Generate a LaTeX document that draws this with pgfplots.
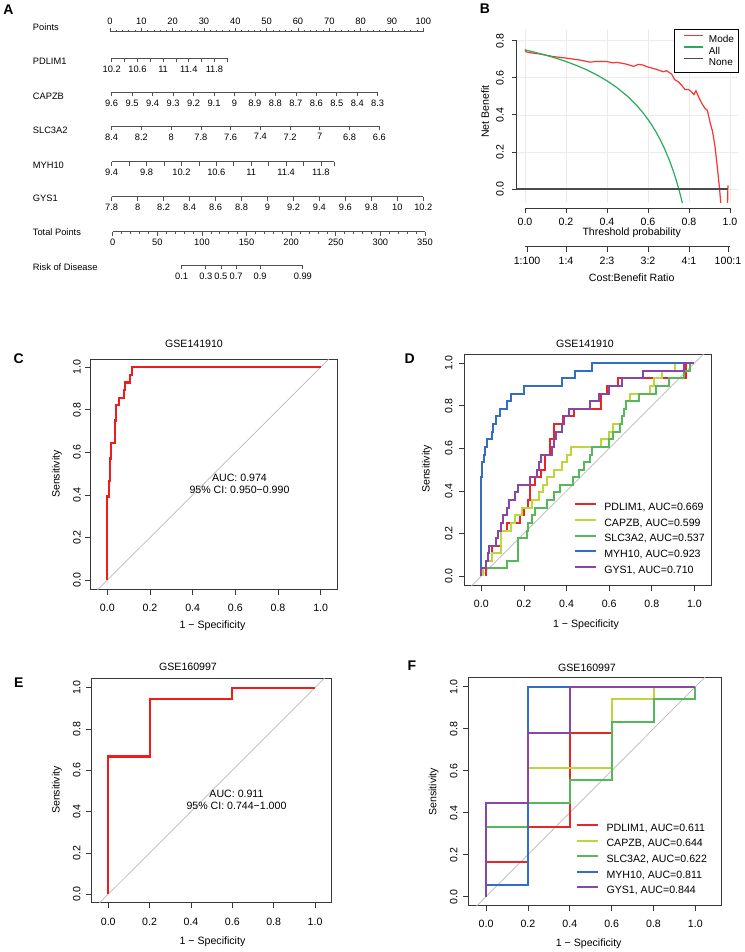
\documentclass[border=0pt]{standalone}
\usepackage{fontspec}
\setmainfont{Liberation Sans}
\usepackage{pgfplots}
\pgfplotsset{compat=1.18}

\definecolor{rocred}{RGB}{240,28,28}
\definecolor{cred}{RGB}{232,38,38}
\definecolor{cyel}{RGB}{190,214,60}
\definecolor{cgrn}{RGB}{86,184,90}
\definecolor{cblu}{RGB}{50,110,200}
\definecolor{cpur}{RGB}{138,70,166}
\definecolor{dcared}{RGB}{250,50,50}
\definecolor{dcagrn}{RGB}{40,172,92}
\definecolor{nomo}{RGB}{80,80,80}
\definecolor{boxc}{RGB}{55,55,55}
\definecolor{diag}{RGB}{185,185,185}

\newcommand{\fA}{\fontsize{9.3}{11}\selectfont}
\newcommand{\fB}{\fontsize{10.6}{12.5}\selectfont}
\newcommand{\fL}{\fontsize{14}{16}\selectfont\bfseries}

\pgfplotsset{
  nomoaxis/.style={scale only axis, height=10pt, ymin=0, ymax=1,
    hide y axis, axis x line*=bottom, tick align=outside, anchor=south west,
    axis line style={draw=nomo, line width=0.7pt},
    tick style={draw=nomo, line width=0.7pt},
    major tick length=4pt, minor tick length=2pt,
    tick label style={font=\fA},
    /pgf/number format/assume math mode=true},
  rocaxis/.style={scale only axis, anchor=south west,
    axis x line*=bottom, axis y line*=left, clip mode=individual,
    xtick={0,0.2,0.4,0.6,0.8,1}, ytick={0,0.2,0.4,0.6,0.8,1},
    xticklabels={0.0,0.2,0.4,0.6,0.8,1.0}, yticklabels=\empty,
    tick align=outside,
    major tick length=5.5pt,
    axis line style={draw=boxc, line width=0.8pt},
    tick style={draw=boxc, line width=0.8pt},
    tick label style={font=\fB},
    xticklabel shift=6pt},
  roclegend/.style={legend style={at={(axis cs:#1)}, anchor=north west, draw=none, fill=none,
      inner sep=0pt, font=\fB, row sep=5.85pt,
      nodes={inner sep=0pt, text height=7.6pt, text depth=2.2pt}},
    legend cell align=left,
    legend image code/.code={\draw[##1, line width=2pt] (0pt,3.6pt) -- (21pt,3.6pt); \path (28.3pt,0pt);}},
}

\begin{document}
\begin{tikzpicture}
\useasboundingbox (0,0) rectangle (744pt,-952pt);

% ================= Panel A: nomogram =================
\begin{axis}[nomoaxis, axis x line*=top, anchor=north west, at={(110pt,-31.7pt)}, width=313.3pt,
  xmin=0, xmax=100, xtick={0,10,...,100}, minor x tick num=4]
\end{axis}
\begin{axis}[nomoaxis, at={(111.7pt,-58.3pt)}, width=115.6pt,
  xmin=10.2, xmax=12.0, xtick={10.2,10.4,10.6,10.8,11,11.2,11.4,11.6,11.8,12},
  xticklabels={10.2,,10.6,,11,,11.4,,11.8,}]
\end{axis}
\begin{axis}[nomoaxis, at={(111.7pt,-92.3pt)}, width=266pt, x dir=reverse,
  xmin=8.3, xmax=9.6, xtick={8.3,8.4,8.5,8.6,8.7,8.8,8.9,9,9.1,9.2,9.3,9.4,9.5,9.6},
  xticklabels={8.3,8.4,8.5,8.6,8.7,8.8,8.9,9,9.1,9.2,9.3,9.4,9.5,9.6}]
\end{axis}
\begin{axis}[nomoaxis, at={(111.7pt,-126pt)}, width=267.6pt, x dir=reverse,
  xmin=6.6, xmax=8.4, xtick={6.6,6.8,7,7.2,7.4,7.6,7.8,8,8.2,8.4},
  xticklabels={6.6,6.8,7,7.2,7.4,7.6,7.8,8,8.2,8.4}]
\end{axis}
\begin{axis}[nomoaxis, at={(111.7pt,-161.7pt)}, width=222.3pt,
  xmin=9.4, xmax=11.95, xtick={9.4,9.6,9.8,10,10.2,10.4,10.6,10.8,11,11.2,11.4,11.6,11.8,11.95},
  xticklabels={9.4,,9.8,,10.2,,10.6,,11,,11.4,,11.8,}]
\end{axis}
\begin{axis}[nomoaxis, at={(111.7pt,-196.7pt)}, width=311.6pt,
  xmin=7.8, xmax=10.2, xtick={7.8,8,8.2,8.4,8.6,8.8,9,9.2,9.4,9.6,9.8,10,10.2},
  xticklabels={7.8,8,8.2,8.4,8.6,8.8,9,9.2,9.4,9.6,9.8,10,10.2}]
\end{axis}
\begin{axis}[nomoaxis, at={(112.7pt,-231.7pt)}, width=312.3pt,
  xmin=0, xmax=350, xtick={0,50,...,350}, minor x tick num=4]
\end{axis}
\begin{axis}[nomoaxis, at={(181.7pt,-265pt)}, width=121.1pt,
  xmin=77.3, xmax=213, xtick={77.3,104.3,121.2,138.2,165.1,213},
  xticklabels={0.1,0.3,0.5,0.7,0.9,0.99}]
\end{axis}

\foreach \lab/\yy in {Points/27.5, PDLIM1/61, CAPZB/96, SLC3A2/130, MYH10/165, GYS1/198.5, Total Points/232, Risk of Disease/267}
  \node[anchor=west, font=\fA, inner sep=0pt] at (32.7pt,-\yy pt) {\lab};

% ================= Panel B: decision curve =================
\begin{axis}[scale only axis, anchor=south west, at={(516.8pt,-202.9pt)}, width=221.4pt, height=174.3pt,
  xmin=-0.04, xmax=1.04, ymin=-0.075, ymax=0.865,
  axis line style={draw=none}, major tick length=0pt,
  xtick={0,0.2,0.4,0.6,0.8,1}, ytick={0,0.2,0.4,0.6,0.8},
  xticklabels=\empty, yticklabels=\empty,
  grid=major, grid style={draw=gray!15, line width=0.5pt},
  legend style={at={(axis cs:1.04,0.865)}, anchor=north east, draw=black, line width=0.5pt, fill=white,
     inner xsep=4pt, inner ysep=6pt, font=\fontsize{10}{12}\selectfont, row sep=3.6pt,
     nodes={inner sep=0pt, text height=7.2pt, text depth=0pt}},
  legend cell align=left,
  legend image code/.code={\path (-5pt,0pt); \draw[#1, line width=1.5pt] (0pt,3.6pt) -- (19pt,3.6pt); \path (24pt,0pt);}]
\addplot[dcared, line width=1.2pt] coordinates {
 (0,0.752)(0.005,0.74)(0.024,0.735)(0.073,0.728)(0.138,0.714)(0.2,0.706)(0.27,0.695)
 (0.317,0.684)(0.35,0.688)(0.4,0.687)(0.43,0.68)(0.447,0.683)(0.496,0.673)(0.53,0.661)
 (0.553,0.672)(0.577,0.668)(0.593,0.66)(0.642,0.645)(0.675,0.632)(0.69,0.638)(0.715,0.62)
 (0.73,0.59)(0.748,0.578)(0.764,0.56)(0.78,0.537)(0.797,0.537)(0.813,0.523)(0.824,0.509)
 (0.834,0.53)(0.846,0.498)(0.862,0.462)(0.878,0.435)(0.889,0.425)(0.902,0.363)(0.915,0.309)
 (0.927,0.228)(0.938,0.12)(0.948,0.013)(0.956,-0.09)(0.96,-0.3)(0.984,-0.3)(0.99,0.02)};
\addlegendentry{Mode}
\addplot[dcagrn, line width=1.2pt] coordinates {
 (0,0.75)(0.05,0.7368)(0.1,0.7222)(0.15,0.7059)(0.2,0.6875)(0.25,0.6667)(0.3,0.6429)
 (0.35,0.6154)(0.4,0.5833)(0.45,0.5455)(0.5,0.5)(0.55,0.4444)(0.58,0.4048)(0.6,0.375)
 (0.62,0.3421)(0.64,0.3056)(0.66,0.2647)(0.68,0.2188)(0.7,0.1667)(0.71,0.1379)(0.72,0.1071)
 (0.73,0.0741)(0.74,0.0385)(0.75,0)(0.76,-0.0417)(0.77,-0.087)(0.78,-0.1364)};
\addlegendentry{All}
\addplot[black!70, line width=1.5pt] coordinates {(-0.04,0) (0.99,0)};
\addlegendentry{None}
\end{axis}
% y axis of B
\begin{axis}[scale only axis, anchor=south west, at={(516.8pt,-189pt)}, width=10pt, height=148.3pt,
  xmin=0, xmax=1, ymin=0, ymax=0.8, hide x axis, axis y line*=left, tick align=outside,
  major tick length=5pt, ytick={0,0.2,0.4,0.6,0.8}, yticklabels={0.0,0.2,0.4,0.6,0.8},
  axis line style={draw=boxc, line width=0.8pt}, tick style={draw=boxc, line width=0.8pt},
  tick label style={font=\fB}, yticklabel style={rotate=90, anchor=south}, yticklabel shift=4.5pt]
\end{axis}
% x axis of B
\begin{axis}[scale only axis, anchor=south west, at={(525pt,-208.3pt)}, width=205pt, height=10pt,
  xmin=0, xmax=1, ymin=0, ymax=1, hide y axis, axis x line*=bottom, tick align=outside,
  major tick length=5pt, xtick={0,0.2,0.4,0.6,0.8,1}, xticklabels={0.0,0.2,0.4,0.6,0.8,1.0},
  axis line style={draw=boxc, line width=0.8pt}, tick style={draw=boxc, line width=0.8pt},
  tick label style={font=\fB}, xticklabel shift=1.5pt]
\end{axis}
% cost:benefit axis
\begin{axis}[scale only axis, anchor=south west, at={(525pt,-246.7pt)}, width=205pt, height=10pt,
  xmin=0, xmax=1, ymin=0, ymax=1, hide y axis, axis x line*=bottom, tick align=outside,
  major tick length=5pt, xtick={0.0099,0.2,0.4,0.6,0.8,0.9901},
  xticklabels={1:100,1:4,2:3,3:2,4:1,100:1},
  axis line style={draw=boxc, line width=0.8pt}, tick style={draw=boxc, line width=0.8pt},
  tick label style={font=\fB}, xticklabel shift=1.5pt]
\end{axis}
\node[font=\fB, rotate=90] at (485pt,-111.7pt) {Net Benefit};
\node[font=\fB] at (631.7pt,-232.5pt) {Threshold probability};
\node[font=\fB] at (631.7pt,-277.7pt) {Cost:Benefit Ratio};

% ================= Panel C =================
\begin{axis}[rocaxis, at={(90.7pt,-589pt)}, width=246.6pt, height=230pt,
  xmin=-0.078, xmax=1.078, ymin=-0.042, ymax=1.039]
\draw[boxc, line width=0.8pt] (rel axis cs:0,0) rectangle (rel axis cs:1,1);
\addplot[diag, line width=0.7pt] coordinates {(-0.2,-0.2) (1.2,1.2)};
\addplot[rocred, line width=2.2pt] coordinates {
 (0,0)(0,0.393)(0.006,0.393)(0.006,0.464)(0.012,0.464)(0.012,0.571)(0.018,0.571)(0.018,0.643)
 (0.036,0.643)(0.036,0.75)(0.042,0.75)(0.042,0.821)(0.054,0.821)(0.054,0.857)(0.078,0.857)
 (0.078,0.893)(0.084,0.893)(0.084,0.929)(0.108,0.929)(0.108,0.964)(0.114,0.964)(0.114,1)(1,1)};
\end{axis}
\foreach \lab/\yy in {0.0/580, 0.2/537.5, 0.4/494.9, 0.6/452.4, 0.8/409.8, 1.0/367.3}
  \node[font=\fB, rotate=90, inner sep=0pt] at (77pt,-\yy pt) {\lab};
\node[font=\fB] at (194pt,-344pt) {GSE141910};
\node[font=\fB, rotate=90] at (57pt,-474pt) {Sensitivity};
\node[font=\fB] at (212.5pt,-626pt) {1 − Specificity};
\node[font=\fB] at (239.5pt,-478.3pt) {AUC: 0.974};
\node[font=\fB] at (239.5pt,-489.5pt) {95\% CI: 0.950−0.990};

% ================= Panel D =================
\begin{axis}[rocaxis, roclegend={0.434,0.344}, at={(464.3pt,-585pt)}, width=246.7pt, height=230.7pt,
  xmin=-0.080, xmax=1.078, ymin=-0.042, ymax=1.042]
\draw[boxc, line width=0.8pt] (rel axis cs:0,0) rectangle (rel axis cs:1,1);
\addplot[diag, line width=0.7pt, forget plot] coordinates {(-0.2,-0.2) (1.2,1.2)};
\addplot[cred, line width=2pt] coordinates {
 (0.02,0)(0.02,0.071)(0.05,0.071)(0.05,0.143)(0.09,0.143)(0.09,0.214)(0.12,0.214)(0.12,0.25)
 (0.18,0.25)(0.18,0.286)(0.2,0.286)(0.2,0.321)(0.22,0.321)(0.22,0.357)(0.23,0.357)(0.23,0.429)
 (0.25,0.429)(0.25,0.464)(0.28,0.464)(0.28,0.5)(0.3,0.5)(0.3,0.571)(0.32,0.571)(0.32,0.643)
 (0.34,0.643)(0.34,0.714)(0.385,0.714)(0.385,0.75)(0.436,0.75)(0.436,0.786)(0.56,0.786)
 (0.56,0.857)(0.59,0.857)(0.59,0.893)(0.64,0.893)(0.64,0.929)(0.96,0.929)(0.96,1)(1,1)};
\addlegendentry{PDLIM1, AUC=0.669}
\addplot[cyel, line width=2pt] coordinates {
 (0.01,0)(0.01,0.036)(0.02,0.036)(0.02,0.071)(0.05,0.071)(0.05,0.107)(0.09,0.107)(0.09,0.214)
 (0.14,0.214)(0.14,0.25)(0.16,0.25)(0.16,0.286)(0.19,0.286)(0.19,0.321)(0.24,0.321)(0.24,0.357)
 (0.27,0.357)(0.27,0.393)(0.29,0.393)(0.29,0.429)(0.31,0.429)(0.31,0.464)(0.34,0.464)(0.34,0.5)
 (0.38,0.5)(0.38,0.536)(0.4,0.536)(0.4,0.571)(0.42,0.571)(0.42,0.607)(0.56,0.607)(0.56,0.643)
 (0.6,0.643)(0.6,0.679)(0.62,0.679)(0.62,0.714)(0.66,0.714)(0.66,0.75)(0.67,0.75)(0.67,0.786)
 (0.68,0.786)(0.68,0.821)(0.7,0.821)(0.7,0.857)(0.79,0.857)(0.79,0.893)(0.81,0.893)(0.81,0.929)
 (0.85,0.929)(0.85,0.964)(0.91,0.964)(0.91,1)(1,1)};
\addlegendentry{CAPZB, AUC=0.599}
\addplot[cgrn, line width=2pt] coordinates {
 (0,0)(0,0.036)(0.12,0.036)(0.12,0.071)(0.17,0.071)(0.17,0.179)(0.215,0.179)(0.215,0.214)
 (0.22,0.214)(0.22,0.25)(0.24,0.25)(0.24,0.286)(0.25,0.286)(0.25,0.321)(0.31,0.321)(0.31,0.357)
 (0.34,0.357)(0.34,0.393)(0.37,0.393)(0.37,0.429)(0.43,0.429)(0.43,0.464)(0.46,0.464)(0.46,0.5)
 (0.48,0.5)(0.48,0.536)(0.51,0.536)(0.51,0.571)(0.52,0.571)(0.52,0.607)(0.6,0.607)(0.6,0.643)
 (0.62,0.643)(0.62,0.679)(0.65,0.679)(0.65,0.714)(0.66,0.714)(0.66,0.75)(0.67,0.75)(0.67,0.786)
 (0.68,0.786)(0.68,0.821)(0.74,0.821)(0.74,0.857)(0.82,0.857)(0.82,0.893)(0.88,0.893)(0.88,0.929)
 (0.95,0.929)(0.95,0.964)(0.98,0.964)(0.98,1)(1,1)};
\addlegendentry{SLC3A2, AUC=0.537}
\addplot[cblu, line width=2pt] coordinates {
 (0,0)(0,0.464)(0.005,0.464)(0.005,0.536)(0.013,0.536)(0.013,0.571)(0.017,0.571)(0.017,0.607)
 (0.028,0.607)(0.028,0.643)(0.048,0.643)(0.048,0.679)(0.056,0.679)(0.056,0.714)(0.069,0.714)
 (0.069,0.75)(0.088,0.75)(0.088,0.786)(0.122,0.786)(0.122,0.821)(0.14,0.821)(0.14,0.857)
 (0.2,0.857)(0.2,0.893)(0.38,0.893)(0.38,0.929)(0.44,0.929)(0.44,0.964)(0.52,0.964)(0.52,1)(1,1)};
\addlegendentry{MYH10, AUC=0.923}
\addplot[cpur, line width=2pt] coordinates {
 (0,0)(0,0.036)(0.02,0.036)(0.02,0.071)(0.03,0.071)(0.03,0.107)(0.035,0.107)(0.035,0.143)
 (0.07,0.143)(0.07,0.179)(0.08,0.179)(0.08,0.214)(0.09,0.214)(0.09,0.25)(0.1,0.25)(0.1,0.286)
 (0.12,0.286)(0.12,0.321)(0.13,0.321)(0.13,0.357)(0.16,0.357)(0.16,0.393)(0.17,0.393)(0.17,0.429)
 (0.23,0.429)(0.23,0.464)(0.26,0.464)(0.26,0.5)(0.27,0.5)(0.27,0.536)(0.28,0.536)(0.28,0.571)
 (0.33,0.571)(0.33,0.607)(0.34,0.607)(0.34,0.643)(0.35,0.643)(0.35,0.679)(0.38,0.679)(0.38,0.714)
 (0.39,0.714)(0.39,0.75)(0.41,0.75)(0.41,0.786)(0.51,0.786)(0.51,0.821)(0.55,0.821)(0.55,0.857)
 (0.6,0.857)(0.6,0.893)(0.66,0.893)(0.66,0.929)(0.76,0.929)(0.76,0.964)(0.95,0.964)(0.95,1)(1,1)};
\addlegendentry{GYS1, AUC=0.710}
\end{axis}
\foreach \lab/\yy in {0.0/576, 0.2/533.5, 0.4/490.9, 0.6/448.4, 0.8/405.8, 1.0/363.3}
  \node[font=\fB, rotate=90, inner sep=0pt] at (448.7pt,-\yy pt) {\lab};
\node[font=\fB] at (585pt,-344pt) {GSE141910};
\node[font=\fB, rotate=90] at (427pt,-469pt) {Sensitivity};
\node[font=\fB] at (586pt,-625pt) {1 − Specificity};

% ================= Panel E =================
\begin{axis}[rocaxis, at={(91.7pt,-902.7pt)}, width=239.3pt, height=224.4pt,
  xmin=-0.080, xmax=1.077, ymin=-0.041, ymax=1.045]
\draw[boxc, line width=0.8pt] (rel axis cs:0,0) rectangle (rel axis cs:1,1);
\addplot[diag, line width=0.7pt] coordinates {(-0.2,-0.2) (1.2,1.2)};
\addplot[rocred, line width=2.2pt] coordinates {
 (0,0)(0,0.667)(0.2,0.667)(0.2,0.944)(0.6,0.944)(0.6,1)(1,1)};
\end{axis}
\foreach \lab/\yy in {0.0/894.3, 0.2/853, 0.4/811.6, 0.6/770.3, 0.8/728.9, 1.0/687.6}
  \node[font=\fB, rotate=90, inner sep=0pt] at (76.7pt,-\yy pt) {\lab};
\node[font=\fB] at (188pt,-667pt) {GSE160997};
\node[font=\fB, rotate=90] at (57pt,-790pt) {Sensitivity};
\node[font=\fB] at (212.5pt,-941.7pt) {1 − Specificity};
\node[font=\fB] at (236.5pt,-794.3pt) {AUC: 0.911};
\node[font=\fB] at (236.5pt,-805.5pt) {95\% CI: 0.744−1.000};

% ================= Panel F =================
\begin{axis}[rocaxis, roclegend={0.43,0.349}, at={(468.7pt,-905pt)}, width=252.6pt, height=227.7pt,
  xmin=-0.083, xmax=1.124, ymin=-0.040, ymax=1.045]
\draw[boxc, line width=0.8pt] (rel axis cs:0,0) rectangle (rel axis cs:1,1);
\addplot[diag, line width=0.7pt, forget plot] coordinates {(-0.2,-0.2) (1.2,1.2)};
\addplot[cred, line width=2pt] coordinates {
 (0,0)(0,0.167)(0.2,0.167)(0.2,0.333)(0.4,0.333)(0.4,0.778)(0.6,0.778)(0.6,0.833)(0.8,0.833)
 (0.8,0.944)(1,0.944)(1,1)};
\addlegendentry{PDLIM1, AUC=0.611}
\addplot[cyel, line width=2pt] coordinates {
 (0,0)(0,0.056)(0.2,0.056)(0.2,0.611)(0.6,0.611)(0.6,0.944)(0.8,0.944)(0.8,1)(1,1)};
\addlegendentry{CAPZB, AUC=0.644}
\addplot[cgrn, line width=2pt] coordinates {
 (0,0)(0,0.333)(0.2,0.333)(0.2,0.444)(0.4,0.444)(0.4,0.556)(0.6,0.556)(0.6,0.833)(0.8,0.833)
 (0.8,0.944)(1,0.944)(1,1)};
\addlegendentry{SLC3A2, AUC=0.622}
\addplot[cblu, line width=2pt] coordinates {
 (0,0)(0,0.056)(0.2,0.056)(0.2,1)(1,1)};
\addlegendentry{MYH10, AUC=0.811}
\addplot[cpur, line width=2pt] coordinates {
 (0,0)(0,0.444)(0.2,0.444)(0.2,0.778)(0.4,0.778)(0.4,1)(1,1)};
\addlegendentry{GYS1, AUC=0.844}
\end{axis}
\foreach \lab/\yy in {0.0/896.7, 0.2/854.7, 0.4/812.7, 0.6/770.7, 0.8/728.7, 1.0/686.7}
  \node[font=\fB, rotate=90, inner sep=0pt] at (453.7pt,-\yy pt) {\lab};
\node[font=\fB] at (587pt,-667.7pt) {GSE160997};
\node[font=\fB, rotate=90] at (433.7pt,-791.7pt) {Sensitivity};
\node[font=\fB] at (588.7pt,-943.3pt) {1 − Specificity};

% ================= Panel letters =================
\node[font=\fL] at (8.5pt,-9.2pt) {A};
\node[font=\fL] at (485pt,-8.7pt) {B};
\node[font=\fL] at (18.7pt,-358.5pt) {C};
\node[font=\fL] at (409.7pt,-358.5pt) {D};
\node[font=\fL] at (18.7pt,-683pt) {E};
\node[font=\fL] at (412pt,-665.3pt) {F};
\end{tikzpicture}
\end{document}
